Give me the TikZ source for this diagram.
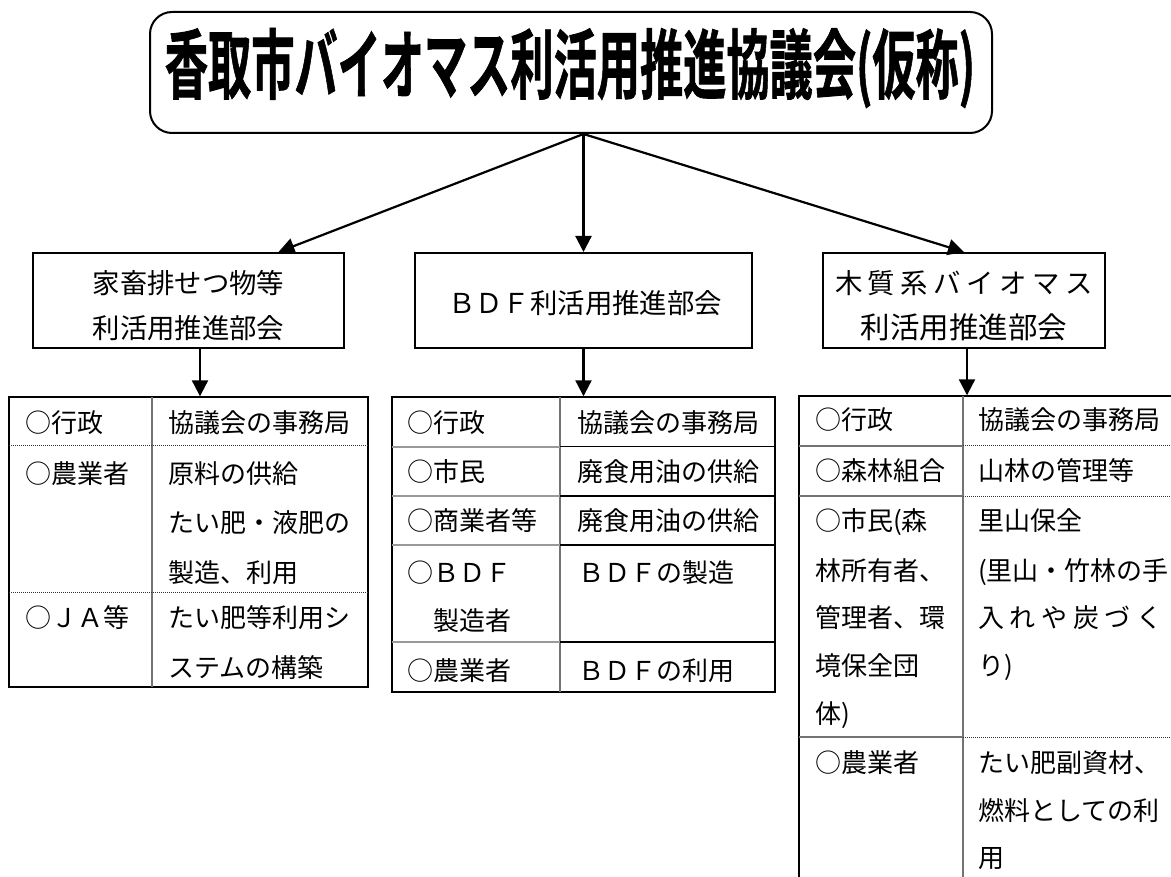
\documentclass[tikz,border=0pt]{standalone}
\usepackage{fontspec}
\usepackage{graphicx}
\usetikzlibrary{arrows.meta,calc}
\newfontfamily\jp{Noto Sans CJK JP}
\newfontfamily\titlefont{Noto Sans CJK JP}[UprightFont=* Bold, FakeBold=1.2]
\tikzset{
  frame/.style={draw=black, line width=2pt, inner sep=0pt},
  boxtxt/.style={font=\jp\fontsize{27.4}{45}\selectfont, inner sep=0pt, align=center},
  cell/.style={font=\jp\fontsize{26}{26}\selectfont, inner sep=0pt, anchor=base west},
  conn/.style={line width=2.2pt, -{Triangle[length=16pt,width=16pt]}},
  tabline/.style={draw=black, line width=1.4pt, inner sep=0pt},
  vdiv/.style={draw=black!55, line width=1.5pt},
  hgray/.style={draw=black!40, line width=1.5pt},
  hdot/.style={draw=black!80, line width=1pt, densely dotted},
  hthick/.style={draw=black, line width=1.8pt}
}
\begin{document}
\begin{tikzpicture}[x=1pt,y=-1pt]
\fill[white] (0,0) rectangle (1171,877);
\useasboundingbox (0,0) rectangle (1171,877);

% title
\node[frame, rounded corners=22pt, minimum width=842pt, minimum height=121pt] (t) at (571,72.5) {};
\node[inner sep=0pt] (tt) at (570,68) {\resizebox*{810pt}{80pt}{\titlefont 香取市バイオマス利活用推進協議会(仮称)}};

% sub-committee boxes
\node[frame, minimum width=311pt, minimum height=95pt] (b1) at (188.5,300.5) {};
\node[boxtxt] (b1a) at (188.5,283) {家畜排せつ物等};
\node[boxtxt] (b1b) at (188.5,328) {利活用推進部会};
\node[frame, minimum width=337pt, minimum height=95pt] (b2) at (583.5,300.5) {};
\node[boxtxt] (b2a) at (585,303) {ＢＤＦ利活用推進部会};
\node[frame, minimum width=282pt, minimum height=95pt] (b3) at (964,300.5) {};
\node[boxtxt] (b3a) at (964,283) {\makebox[258pt][s]{木\hfil 質\hfil 系\hfil バ\hfil イ\hfil オ\hfil マ\hfil ス}};
\node[boxtxt] (b3b) at (964,327) {\fontsize{29.5}{45}\selectfont 利活用推進部会};

% connectors from title
\coordinate (apex) at (t.south -| b2.north);
\draw[conn] (apex) -- ([xshift=90pt]b1.north);
\draw[conn] (apex) -- (b2.north);
\draw[conn] (apex) -- (b3.north);

% tables (outer frames)
\node[tabline, minimum width=359pt, minimum height=290pt] (tab1) at (188.5,542) {};
\node[tabline, minimum width=383pt, minimum height=295pt] (tab2) at (583.5,544.5) {};
\node[tabline, minimum width=386pt, minimum height=504pt] (tab3) at (992,648) {};

% connectors to tables
\draw[conn] ([xshift=11.5pt]b1.south) -- ([xshift=11.5pt]b1.south |- tab1.north);
\draw[conn] (b2.south) -- (b2.south |- tab2.north);
\draw[conn] ([xshift=3pt]b3.south) -- ([xshift=3pt]b3.south |- tab3.north);

% ---- table 1 lines
\draw[vdiv] (152,397) -- (152,687);
\draw[hdot] (9,446) -- (368,446);
\draw[hdot] (9,592) -- (368,592);
% table 1 text
\node[cell] (a1) at (25,432) {○行政};
\node[cell] (a2) at (25,483) {○農業者};
\node[cell] (a3) at (25,627) {○ＪＡ等};
\node[cell] (a4) at (168,432) {協議会の事務局};
\node[cell] (a5) at (168,483) {原料の供給};
\node[cell] (a6) at (168,532) {たい肥・液肥の};
\node[cell] (a7) at (168,582) {製造、利用};
\node[cell] (a8) at (168,627) {たい肥等利用シ};
\node[cell] (a9) at (168,677) {ステムの構築};

% ---- table 2 lines
\draw[vdiv] (560,397) -- (560,692);
\foreach \yy in {447,496,545,642} {\draw[hgray] (392,\yy) -- (560,\yy);}
\draw[draw=black, line width=1pt] (560,447) -- (775,447);
\foreach \yy in {496,545,642} {\draw[hthick] (560,\yy) -- (775,\yy);}
% table 2 text
\node[cell] (m1) at (407,432) {○行政};
\node[cell] (m2) at (407,482) {○市民};
\node[cell] (m3) at (407,530) {○商業者等};
\node[cell] (m4) at (407,582) {○ＢＤＦ};
\node[cell] (m5) at (433,630) {製造者};
\node[cell] (m6) at (407,680) {○農業者};
\node[cell] (m7) at (577,432) {協議会の事務局};
\node[cell] (m8) at (577,482) {廃食用油の供給};
\node[cell] (m9) at (577,530) {廃食用油の供給};
\node[cell] (m10) at (578,582) {ＢＤＦの製造};
\node[cell] (m11) at (578,680) {ＢＤＦの利用};

% ---- table 3 lines
\draw[vdiv] (963,396) -- (963,900);
\foreach \yy in {446,496,737} {\draw[hgray, draw=black!55] (799,\yy) -- (963,\yy);}
\foreach \yy in {446,496,737} {\draw[hdot] (963,\yy) -- (1180,\yy);}
% table 3 text
\node[cell] (r1) at (815,430) {○行政};
\node[cell] (r2) at (815,480) {○森林組合};
\node[cell] (r3) at (815,530) {○市民(森};
\node[cell] (r4) at (815,580) {林所有者、};
\node[cell] (r5) at (815,627) {管理者、環};
\node[cell] (r6) at (815,675) {境保全団};
\node[cell] (r7) at (815,723) {体)};
\node[cell] (r8) at (815,772) {○農業者};
\node[cell] (r9) at (978,430) {協議会の事務局};
\node[cell] (r10) at (978,480) {山林の管理等};
\node[cell] (r11) at (978,530) {里山保全};
\node[cell] (r12) at (978,580) {(里山・竹林の手};
\node[cell] (r13) at (978,627) {\makebox[184pt][s]{入\hfil れ\hfil や\hfil 炭\hfil づ\hfil く}};
\node[cell] (r14) at (978,675) {り)};
\node[cell] (r15) at (978,772) {たい肥副資材、};
\node[cell] (r16) at (978,820) {燃料としての利};
\node[cell] (r17) at (978,867) {用};
\end{tikzpicture}
\end{document}
